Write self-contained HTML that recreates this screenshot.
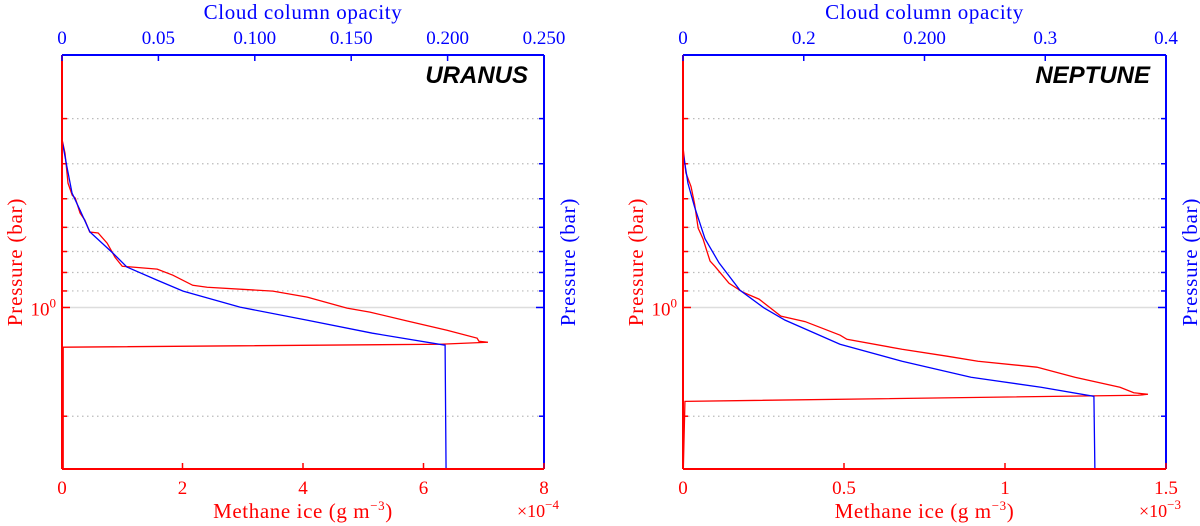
<!DOCTYPE html>
<html><head><meta charset="utf-8"><style>
html,body{margin:0;padding:0;background:#fff;}
svg{display:block;font-family:"Liberation Serif",serif;}
</style></head><body>
<svg id="fig" width="1200" height="526" viewBox="0 0 1200 526" xmlns="http://www.w3.org/2000/svg"></svg>
<script>
// ---- data ----
const pressureGrid = [0.3,0.4,0.5,0.6,0.7,0.8,0.9,2];
// Uranus methane ice (x1e-4 g m^-3) vs pressure (bar)
const uraMethane = [0,0.05,0.1,0.17,0.22,0.3,0.38,0.46,0.6,0.75,0.88,1.0,1.58,1.84,2.17,2.41,3.5,4.07,4.73,5.11,5.73,6.39,6.89,6.92,7.07,6.27,0.02,0.02];
const uraMethaneP = [0.342,0.374,0.453,0.489,0.498,0.548,0.573,0.618,0.622,0.664,0.726,0.769,0.783,0.814,0.868,0.879,0.901,0.936,1.004,1.03,1.09,1.156,1.216,1.24,1.248,1.264,1.288,2.8];
const uraOpacity = [0,0.0026,0.0052,0.0093,0.0145,0.0264,0.0337,0.0493,0.0628,0.0923,0.127,0.161,0.1987,0.1992];
const uraOpacityP = [0.344,0.409,0.482,0.537,0.618,0.707,0.773,0.840,0.901,0.998,1.084,1.178,1.272,2.8];
const uraBottomTicks = ["0","2","4","6","8"];
const uraTopTicks = ["0","0.05","0.100","0.150","0.200","0.250"];
// Neptune methane ice (x1e-3 g m^-3)
const nepMethane = [0.0006,0.009,0.025,0.036,0.047,0.062,0.084,0.099,0.143,0.186,0.236,0.304,0.379,0.488,0.509,0.680,0.820,0.916,1.099,1.217,1.357,1.400,1.444,1.413,0.006,0.001];
const nepMethaneP = [0.363,0.424,0.463,0.517,0.603,0.645,0.744,0.769,0.857,0.907,0.948,1.057,1.094,1.193,1.225,1.305,1.364,1.409,1.463,1.560,1.663,1.722,1.739,1.750,1.819,2.8];
const nepOpacity = [0,0.0041,0.0096,0.0182,0.0298,0.0472,0.0671,0.0845,0.1300,0.1814,0.2385,0.2965,0.3403,0.3411];
const nepOpacityP = [0.371,0.453,0.527,0.645,0.752,0.896,1.003,1.084,1.264,1.409,1.560,1.663,1.762,2.8];
const nepBottomTicks = ["0","0.5","1","1.5"];
const nepTopTicks = ["0","0.2","0.200","0.3","0.4"];

const NS="http://www.w3.org/2000/svg";
const svg=document.getElementById('fig');
function mk(tag,attrs,parent){const e=document.createElementNS(NS,tag);for(const k in attrs)e.setAttribute(k,attrs[k]);(parent||svg).appendChild(e);return e;}
const RED="#ff0000", BLUE="#0000ff";
const Y0=55, Y1=469, PT=0.2, PB=2.8;
function yP(p){return Y0+(Math.log10(p)-Math.log10(PT))/(Math.log10(PB)-Math.log10(PT))*(Y1-Y0);}

function panel(name,x0,x1,mMax,oMax,meth,methP,opac,opacP,bTicks,tTicks,title,exp){
  const g=mk('g',{});
  
  
  const xM=v=>x0+v/mMax*(x1-x0);
  const xO=v=>x0+v/oMax*(x1-x0);
  pressureGrid.forEach(p=>{
    const y=yP(p);
    const l=mk('line',{x1:x0,x2:x1,y1:y,y2:y,stroke:'#bbb','stroke-width':1.2,'stroke-dasharray':'1.5,3.5'},g);
    
    
    mk('line',{x1:x0,x2:x0+5,y1:y,y2:y,stroke:RED,'stroke-width':1.5},g);
    mk('line',{x1:x1-5,x2:x1,y1:y,y2:y,stroke:BLUE,'stroke-width':1.5},g);
  });
  const y1b=yP(1);
  const ul=mk('line',{x1:x0,x2:x1,y1:y1b,y2:y1b,stroke:'#ddd','stroke-width':1.5},g);
  
  
  mk('line',{x1:x0,x2:x0+8,y1:y1b,y2:y1b,stroke:RED,'stroke-width':1.5},g);
  mk('line',{x1:x1-8,x2:x1,y1:y1b,y2:y1b,stroke:BLUE,'stroke-width':1.5},g);
  const rp=mk('polyline',{points:meth.map((v,i)=>xM(v)+','+yP(methP[i])).join(' '),fill:'none',stroke:RED,'stroke-width':1.3},g);
  
  
  const bp=mk('polyline',{points:opac.map((v,i)=>xO(v)+','+yP(opacP[i])).join(' '),fill:'none',stroke:BLUE,'stroke-width':1.3},g);
  
  
  mk('line',{x1:x0,x2:x1,y1:Y0,y2:Y0,stroke:BLUE,'stroke-width':2},g);
  mk('line',{x1:x1,x2:x1,y1:Y0,y2:Y1,stroke:BLUE,'stroke-width':2},g);
  mk('line',{x1:x0,x2:x0,y1:Y0,y2:Y1,stroke:RED,'stroke-width':2},g);
  mk('line',{x1:x0,x2:x1,y1:Y1,y2:Y1,stroke:RED,'stroke-width':2},g);
  bTicks.forEach((t,i)=>{
    const x=x0+i/(bTicks.length-1)*(x1-x0);
    mk('line',{x1:x,x2:x,y1:Y1-6,y2:Y1,stroke:RED,'stroke-width':1.5},g);
    const tx=mk('text',{x:x,y:494,'text-anchor':'middle','font-size':19,fill:RED},g);
    tx.textContent=t;
    
    
  });
  tTicks.forEach((t,i)=>{
    const x=x0+i/(tTicks.length-1)*(x1-x0);
    mk('line',{x1:x,x2:x,y1:Y0,y2:Y0+6,stroke:BLUE,'stroke-width':1.5},g);
    const tx=mk('text',{x:x,y:44,'text-anchor':'middle','font-size':19,fill:BLUE},g);
    tx.textContent=t;
    
    
  });
  const cx=(x0+x1)/2;
  const xl=mk('text',{x:cx,y:518,'text-anchor':'middle','font-size':21,'letter-spacing':'0.6',fill:RED},g);
  xl.innerHTML='Methane ice (g m<tspan dy="-8" font-size="13">−3</tspan><tspan dy="8">)</tspan>';
  
  
  const ex=mk('text',{x:x1-6,y:517,'text-anchor':'middle','font-size':18,fill:RED},g);
  ex.innerHTML='×10<tspan dy="-8" font-size="13">'+exp+'</tspan>';
  
  
  const tl=mk('text',{x:cx,y:19,'text-anchor':'middle','font-size':21,'letter-spacing':'0.6',fill:BLUE},g);
  tl.textContent='Cloud column opacity';
  
  
  const yl=mk('text',{x:0,y:0,'text-anchor':'middle','font-size':21,'letter-spacing':'0.8',fill:RED,transform:'translate('+(x0-40)+',262) rotate(-90)'},g);
  yl.textContent='Pressure (bar)';
  
  
  const yr=mk('text',{x:0,y:0,'text-anchor':'middle','font-size':21,'letter-spacing':'0.8',fill:BLUE,transform:'translate('+(x1+31)+',262) rotate(-90)'},g);
  yr.textContent='Pressure (bar)';
  
  
  const yt=mk('text',{x:x0-6,y:y1b+8,'text-anchor':'end','font-size':19,fill:RED},g);
  yt.innerHTML='10<tspan dy="-8" font-size="13">0</tspan>';
  
  
  const ti=mk('text',{x:x1-16,y:83,'text-anchor':'end','font-size':24,'font-weight':'bold','font-style':'italic','font-family':'Liberation Sans, sans-serif',fill:'#000'},g);
  ti.textContent=title;
  
  
}
panel('uranus',62,544,8,0.25,uraMethane,uraMethaneP,uraOpacity,uraOpacityP,uraBottomTicks,uraTopTicks,'URANUS','−4');
panel('neptune',683,1166,1.5,0.4,nepMethane,nepMethaneP,nepOpacity,nepOpacityP,nepBottomTicks,nepTopTicks,'NEPTUNE','−3');
</script>
</body></html>
